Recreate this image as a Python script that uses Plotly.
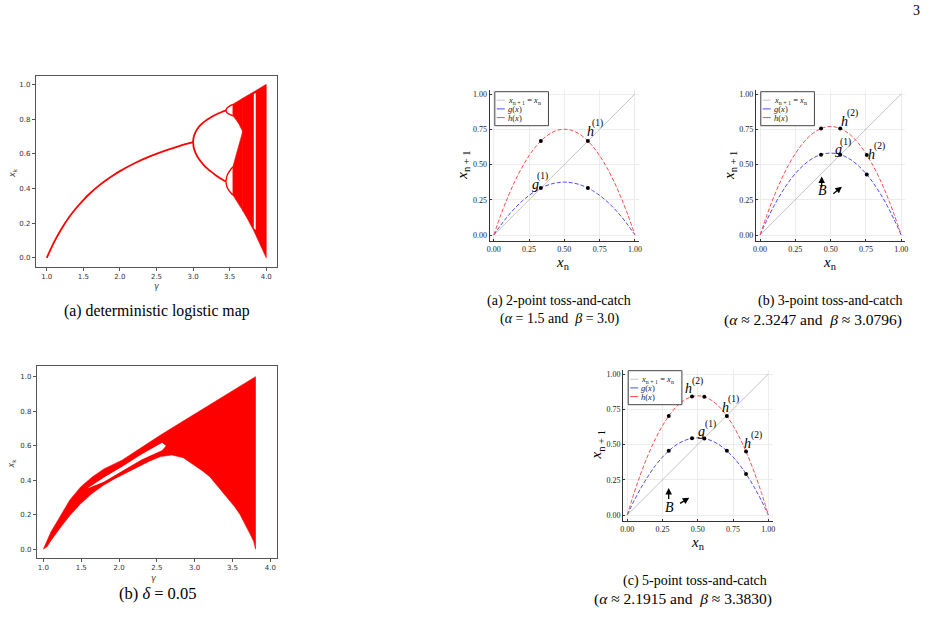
import plotly.graph_objects as go

W, H = 932, 632

# ---------------- data: (a) deterministic logistic map ----------------
p1_gamma = [1.0, 1.1, 1.2, 1.3, 1.4, 1.5, 1.6, 1.7, 1.8, 1.9, 2.0, 2.2, 2.4, 2.6, 2.8, 3.0]
p1_x = [0.0, 0.0909, 0.1667, 0.2308, 0.2857, 0.3333, 0.375, 0.4118, 0.4444, 0.4737,
        0.5, 0.5455, 0.5833, 0.6154, 0.6429, 0.6667]
p2_gamma = [3.0, 3.01, 3.03, 3.06, 3.1, 3.15, 3.2, 3.25, 3.3, 3.35, 3.4, 3.449]
p2_hi = [0.6667, 0.6994, 0.7224, 0.744, 0.7646, 0.784, 0.7995, 0.8124, 0.8236, 0.8334, 0.8422, 0.8499]
p2_lo = [0.6667, 0.6329, 0.6076, 0.5827, 0.558, 0.5335, 0.513, 0.4953, 0.4794, 0.4651, 0.452, 0.44]
p4_gamma = [3.449, 3.46, 3.47, 3.485, 3.5, 3.515, 3.53, 3.544]
p4_b1 = [0.8499, 0.8614, 0.866, 0.871, 0.875, 0.8787, 0.882, 0.8849]
p4_b2 = [0.8499, 0.839, 0.835, 0.8304, 0.8269, 0.8237, 0.821, 0.8191]
p4_b3 = [0.44, 0.4681, 0.4791, 0.4912, 0.5009, 0.51, 0.5178, 0.5243]
p4_b4 = [0.44, 0.4129, 0.4029, 0.3916, 0.3828, 0.375, 0.3682, 0.3627]
band_gamma = [3.544, 3.57, 3.6, 3.63, 3.65, 3.67, 3.678]
upper_band_hi = [0.886, 0.8925, 0.9, 0.9075, 0.9125, 0.9175, 0.9195]
upper_band_lo = [0.819, 0.8039, 0.7885, 0.7691, 0.7537, 0.7363, 0.728]
lower_band_hi = [0.525, 0.5628, 0.6003, 0.6446, 0.6776, 0.7126, 0.728]
lower_band_lo = [0.362, 0.3425, 0.324, 0.3047, 0.2914, 0.2778, 0.2722]
chaos_gamma = [3.678, 3.75, 3.83, 3.9, 4.0]
chaos_hi = [0.9195, 0.9375, 0.9575, 0.975, 1.0]
chaos_lo = [0.2722, 0.2197, 0.1559, 0.0951, 0.0]
window_gamma = [3.83, 3.856]
window_hi = [0.945, 0.95]
window_lo = [0.17, 0.16]

# ---------------- data: (b) noisy map, delta = 0.05 ----------------
noisy_top_gamma = [1.0, 1.05, 1.1, 1.166, 1.25, 1.35, 1.495, 1.65, 1.8, 2.04, 2.3, 2.57,
                   3.0, 3.5, 3.805]
noisy_top_x = [0.0, 0.055, 0.10, 0.149, 0.215, 0.285, 0.362, 0.42, 0.465, 0.516, 0.59, 0.667,
               0.783, 0.918, 1.0]
noisy_bot_gamma = [1.0, 1.05, 1.1, 1.166, 1.25, 1.35, 1.495, 1.65, 1.8, 1.95, 2.1, 2.25, 2.4,
                   2.55, 2.7, 2.85, 2.95, 3.1, 3.2, 3.32, 3.43, 3.53, 3.6, 3.67, 3.73, 3.78, 3.805]
noisy_bot_x = [0.0, 0.015, 0.05, 0.091, 0.14, 0.195, 0.265, 0.325, 0.372, 0.41, 0.445, 0.478,
               0.51, 0.537, 0.546, 0.53, 0.5, 0.455, 0.42, 0.36, 0.30, 0.245, 0.2, 0.14, 0.09,
               0.045, 0.0]
gap_gamma = [1.58, 1.8, 2.04, 2.3, 2.57, 2.62]
gap_hi = [0.352, 0.415, 0.478, 0.55, 0.617, 0.60]
gap_lo = [0.352, 0.39, 0.453, 0.52, 0.574, 0.60]

# ---------------- data: toss-and-catch maps ----------------
xn = [0.0, 0.05, 0.1, 0.15, 0.2, 0.25, 0.3, 0.35, 0.4, 0.45, 0.5,
      0.55, 0.6, 0.65, 0.7, 0.75, 0.8, 0.85, 0.9, 0.95, 1.0]
diag = [0.0, 1.0]
g_a = [0, 0.071, 0.135, 0.191, 0.24, 0.281, 0.315, 0.341, 0.36, 0.371, 0.375,
       0.371, 0.36, 0.341, 0.315, 0.281, 0.24, 0.191, 0.135, 0.071, 0]
h_a = [0, 0.143, 0.27, 0.383, 0.48, 0.563, 0.63, 0.683, 0.72, 0.743, 0.75,
       0.743, 0.72, 0.683, 0.63, 0.563, 0.48, 0.383, 0.27, 0.143, 0]
g_b = [0, 0.110, 0.209, 0.296, 0.372, 0.436, 0.488, 0.529, 0.558, 0.575, 0.581,
       0.575, 0.558, 0.529, 0.488, 0.436, 0.372, 0.296, 0.209, 0.110, 0]
h_b = [0, 0.146, 0.277, 0.393, 0.493, 0.577, 0.647, 0.701, 0.739, 0.762, 0.770,
       0.762, 0.739, 0.701, 0.647, 0.577, 0.493, 0.393, 0.277, 0.146, 0]
g_c = [0, 0.104, 0.197, 0.279, 0.351, 0.411, 0.460, 0.499, 0.526, 0.542, 0.548,
       0.542, 0.526, 0.499, 0.460, 0.411, 0.351, 0.279, 0.197, 0.104, 0]
h_c = [0, 0.161, 0.304, 0.431, 0.541, 0.634, 0.710, 0.770, 0.812, 0.837, 0.846,
       0.837, 0.812, 0.770, 0.710, 0.634, 0.541, 0.431, 0.304, 0.161, 0]
orbit_a_x = [0.3333, 0.6667]
orbit_a_h = [0.6667, 0.6667]
orbit_a_g = [0.3333, 0.3333]
orbit_b_x = [0.432, 0.568, 0.756]
orbit_b_h = [0.755, 0.755, 0.568]
orbit_b_g = [0.570, 0.570, 0.429]
orbit_c_x = [0.294, 0.459, 0.546, 0.706, 0.842]
orbit_c_h = [0.702, 0.840, 0.839, 0.702, 0.450]
orbit_c_g = [0.455, 0.544, 0.543, 0.455, 0.291]
tick_vals = [0, 0.25, 0.5, 0.75, 1.0]
tick_text = ["0.00", "0.25", "0.50", "0.75", "1.00"]

# ---------------- helpers ----------------
def fx(px):
    return px / W

def fy(py):
    return 1 - py / H

RED = "#ff0000"
SERIF = "Liberation Serif"
NB = "\u00a0"

fig = go.Figure()

def add_line(x, y, ax, color=RED, width=1.8):
    fig.add_trace(go.Scatter(x=x, y=y, mode="lines", line=dict(color=color, width=width, shape="spline"),
                             xaxis=ax[0], yaxis=ax[1], hoverinfo="skip"))

def add_poly(xlo, lo, xhi, hi, ax, color=RED, lw=0.6):
    px = list(xhi) + list(xlo)[::-1]
    py = list(hi) + list(lo)[::-1]
    fig.add_trace(go.Scatter(x=px + [px[0]], y=py + [py[0]], mode="lines", fill="toself",
                             fillcolor=color, line=dict(color=color, width=lw),
                             xaxis=ax[0], yaxis=ax[1], hoverinfo="skip"))

A = ("x", "y")
add_line(p1_gamma, p1_x, A)
add_line(p2_gamma, p2_hi, A)
add_line(p2_gamma, p2_lo, A)
for b in (p4_b1, p4_b2, p4_b3, p4_b4):
    add_line(p4_gamma, b, A, width=1.4)
add_poly(band_gamma, upper_band_lo, band_gamma, upper_band_hi, A)
add_poly(band_gamma, lower_band_lo, band_gamma, lower_band_hi, A)
add_poly(chaos_gamma, chaos_lo, chaos_gamma, chaos_hi, A)
add_poly(window_gamma, window_lo, window_gamma, window_hi, A, color="white", lw=0)

B = ("x2", "y2")
add_poly(noisy_bot_gamma, noisy_bot_x, noisy_top_gamma, noisy_top_x, B)
add_poly(gap_gamma, gap_lo, gap_gamma, gap_hi, B, color="white", lw=0)

# toss-and-catch panels
BLUE_D = "#4b4bff"
RED_D = "#ff4b4b"
GRAY = "#c4c4c4"
for ax, g, h, ox, oh, og in [(("x3", "y3"), g_a, h_a, orbit_a_x, orbit_a_h, orbit_a_g),
                             (("x4", "y4"), g_b, h_b, orbit_b_x, orbit_b_h, orbit_b_g),
                             (("x5", "y5"), g_c, h_c, orbit_c_x, orbit_c_h, orbit_c_g)]:
    fig.add_trace(go.Scatter(x=diag, y=diag, mode="lines", line=dict(color=GRAY, width=1),
                             xaxis=ax[0], yaxis=ax[1], hoverinfo="skip"))
    fig.add_trace(go.Scatter(x=xn, y=g, mode="lines", line=dict(color=BLUE_D, width=1, dash="4px,2px", shape="spline"),
                             xaxis=ax[0], yaxis=ax[1], hoverinfo="skip"))
    fig.add_trace(go.Scatter(x=xn, y=h, mode="lines", line=dict(color=RED_D, width=1, dash="4px,2px", shape="spline"),
                             xaxis=ax[0], yaxis=ax[1], hoverinfo="skip"))
    fig.add_trace(go.Scatter(x=ox + ox, y=oh + og, mode="markers",
                             marker=dict(color="black", size=4),
                             xaxis=ax[0], yaxis=ax[1], hoverinfo="skip"))

# ---------------- axes ----------------
mpl_common = dict(showline=True, linecolor="#555", linewidth=1, mirror=True, ticks="outside",
                  ticklen=3, tickcolor="#555", tickwidth=1, showgrid=False, zeroline=False,
                  tickfont=dict(family="DejaVu Sans", size=7, color="#333"))
jl_common = dict(showline=True, linecolor="#333", linewidth=1, mirror=False, ticks="inside",
                 ticklen=2, tickcolor="#333", showgrid=True, gridcolor="#ececec", gridwidth=0.7,
                 zeroline=False, tickvals=tick_vals, ticktext=tick_text,
                 tickfont=dict(family=SERIF, size=8, color="#222"))

layout = dict(width=W, height=H, margin=dict(l=0, r=0, t=0, b=0), showlegend=False,
              paper_bgcolor="white", plot_bgcolor="white")

layout["xaxis"] = dict(mpl_common, domain=[fx(33), fx(276)], range=[0.85, 4.15], anchor="y",
                       tickvals=[1.0, 1.5, 2.0, 2.5, 3.0, 3.5, 4.0], tickformat=".1f")
layout["yaxis"] = dict(mpl_common, domain=[fy(266.5), fy(75.7)], range=[-0.05, 1.05], anchor="x",
                       tickvals=[0, 0.2, 0.4, 0.6, 0.8, 1.0], tickformat=".1f")
layout["xaxis2"] = dict(mpl_common, domain=[fx(34), fx(276)], range=[0.912, 4.092], anchor="y2",
                        tickvals=[1.0, 1.5, 2.0, 2.5, 3.0, 3.5, 4.0], tickformat=".1f")
layout["yaxis2"] = dict(mpl_common, domain=[fy(557.7), fy(366)], range=[-0.05, 1.062], anchor="x2",
                        tickvals=[0, 0.2, 0.4, 0.6, 0.8, 1.0], tickformat=".1f")

def jl_axes(n, x0, y1):
    # x0: pixel of x=0 ; y1: pixel of y=1
    k = 142.0
    layout["xaxis%d" % n] = dict(jl_common, domain=[fx(x0 - 0.03 * k), fx(x0 + 1.03 * k)],
                                 range=[-0.03, 1.03], anchor="y%d" % n)
    kk = 141.0
    layout["yaxis%d" % n] = dict(jl_common, domain=[fy(y1 + 1.045 * kk), fy(y1 - 0.03 * kk)],
                                 range=[-0.045, 1.03], anchor="x%d" % n)

jl_axes(3, 494, 94)
jl_axes(4, 762, 94)
jl_axes(5, 628.3, 374)

fig.update_layout(**layout)

# ---------------- texts ----------------
ann = []
shapes = []

def text(px, py, s, size=12, family=SERIF, angle=0, color="black"):
    ann.append(dict(x=fx(px), y=fy(py), xref="paper", yref="paper", text=s, showarrow=False,
                    font=dict(family=family, size=size, color=color), textangle=angle,
                    xanchor="center", yanchor="middle"))

def arrow(x0, y0, x1, y1):
    ann.append(dict(x=fx(x1), y=fy(y1), xref="paper", yref="paper", ax=x0 - x1, ay=y0 - y1,
                    text="", showarrow=True, arrowhead=2, arrowsize=1, arrowwidth=1.3,
                    arrowcolor="black"))

# page number
text(919, 11, "3", size=14)

# matplotlib panels labels
text(10, 173, "<i>x</i><sub>k</sub>", size=8, family="DejaVu Sans", angle=-90, color="#333")
text(155, 286.7, "<i>γ</i>", size=8, family="DejaVu Sans", color="#333")
text(155, 311, "(a) deterministic logistic map", size=15.8)
text(9.3, 463.3, "<i>x</i><sub>k</sub>", size=8, family="DejaVu Sans", angle=-90, color="#333")
text(151.7, 578.3, "<i>γ</i>", size=8, family="DejaVu Sans", color="#333")
text(155, 593.3, "(b) <i>δ</i> = 0.05", size=16.5)

# toss-and-catch captions
sp = NB
approx_line_b = "(<i>α</i>" + sp + "≈" + sp + "2.3247 and" + sp * 2 + "<i>β</i>" + sp + "≈" + sp + "3.0796)"
approx_line_c = "(<i>α</i>" + sp + "≈" + sp + "2.1915 and" + sp * 2 + "<i>β</i>" + sp + "≈" + sp + "3.3830)"
text(559.3, 300.7, "(a) 2-point toss-and-catch", size=14)
text(561, 319.3, "(<i>α</i> = 1.5 and" + sp * 2 + "<i>β</i> = 3.0)", size=14)
text(833, 300.7, "(b) 3-point toss-and-catch", size=14)
text(815.5, 320, approx_line_b, size=15.5)
text(696, 580.7, "(c) 5-point toss-and-catch", size=14)
text(684, 599.3, approx_line_c, size=15.5)

# axis titles of toss-and-catch panels
for (yx, yy, xx, xy) in [(462.7, 165, 564, 262.5), (731.7, 165, 832.7, 263), (598.3, 445, 700, 543)]:
    text(yx, yy, "<i>x</i><sub>n + 1</sub>", size=15, angle=-90)
    text(xx, xy, "<i>x</i><sub>n</sub>", size=15)

# legends
for (bx, by) in [(495, 91.7), (762.7, 91.7), (629.3, 370.7)]:
    shapes.append(dict(type="rect", xref="paper", yref="paper", x0=fx(bx), x1=fx(bx + 54),
                       y0=fy(by + 34), y1=fy(by), line=dict(color="#444", width=1), fillcolor="white"))
    for i, (col, dash, lab) in enumerate([(GRAY, "solid", "<i>x</i><sub>n + 1</sub> = <i>x</i><sub>n</sub>"),
                                          (BLUE_D, "dash", "<i>g</i>(<i>x</i>)"),
                                          (RED_D, "dash", "<i>h</i>(<i>x</i>)")]):
        ry = by + 8.5 + 8.7 * i
        shapes.append(dict(type="line", xref="paper", yref="paper", x0=fx(bx + 2), x1=fx(bx + 10),
                           y0=fy(ry), y1=fy(ry), line=dict(color=col, width=1, dash=dash)))
        ann.append(dict(x=fx(bx + 11), y=fy(ry), xref="paper", yref="paper", text=lab, showarrow=False,
                        font=dict(family=SERIF, size=8.5, color="#222"), xanchor="left", yanchor="middle"))

# point labels
def lab(bx, by, base, sx, sy, sup):
    text(bx, by, "<i>%s</i>" % base, size=14)
    text(sx, sy, sup, size=9.5)

lab(591, 131.7, "h", 598.3, 123.2, "(1)")
lab(535.7, 184.5, "g", 543, 176.2, "(1)")
lab(846.7, 121.7, "h", 855, 113.2, "(2)")
lab(841, 149.5, "g", 848.3, 142.2, "(1)")
lab(873.7, 154.7, "h", 882, 146.8, "(2)")
text(825, 190.5, "<i>B</i>", size=14)
arrow(824, 189, 824, 176.5)
arrow(834.3, 195, 844.3, 186.7)
lab(690, 388.7, "h", 698.7, 381.2, "(2)")
lab(727.3, 407.5, "h", 735.7, 399.8, "(1)")
lab(703.3, 431.3, "g", 712, 424.5, "(1)")
lab(749.3, 443.3, "h", 758.7, 435.8, "(2)")
text(670.5, 507.7, "<i>B</i>", size=14)
arrow(670, 500.5, 670, 488)
arrow(680, 504.3, 690.7, 497.7)

fig.update_layout(annotations=ann, shapes=shapes)
fig.write_html("out.html")
